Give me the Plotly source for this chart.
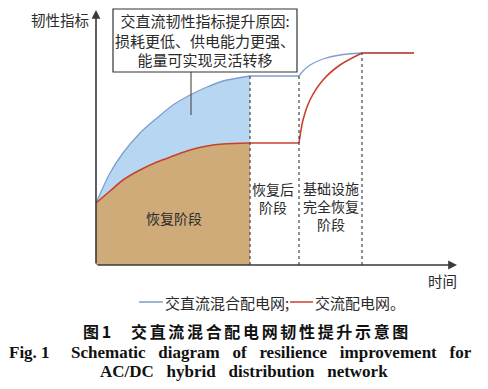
import numpy as np
import plotly.graph_objects as go

# ---------------- data ----------------
time = [0, 1.4, 2.7, 4.4, 6.1, 7.7, 9.4, 11.1, 12.7, 15.4,
        20.3, 20.7, 21.4, 22.7, 24.4, 26.6, 31.8]
hybrid = [6.2, 9.2, 11.2, 13.2, 14.7, 16.0, 17.0, 17.8, 18.4, 18.9,
          18.9, 19.4, 20.0, 20.6, 21.0, 21.2, 21.2]
ac_only = [6.2, 7.4, 8.5, 9.5, 10.3, 10.9, 11.5, 11.9, 12.1, 12.2,
           12.2, 14.5, 16.5, 18.5, 20.0, 21.2, 21.2]
stage_bounds = [15.4, 20.3, 26.6]
stage_labels = ["恢复阶段", "恢复后<br>阶段", "基础设施<br>完全恢复<br>阶段"]
series_names = ["交直流混合配电网;", "交流配电网。"]
y_title = "韧性指标"
x_title = "时间"
box_text = "交直流韧性指标提升原因:<br>损耗更低、供电能力更强、<br>能量可实现灵活转移"
caption_cn_num = "图1"
caption_cn = "交直流混合配电网韧性提升示意图"
caption_en_num = "Fig. 1"
caption_en_1 = "Schematic diagram of resilience improvement for"
caption_en_2 = "AC/DC hybrid distribution network"

# ---------------- styling ----------------
W, H = 488, 389
ML, MR, MT, MB = 96, 31, 5, 124
XMAX, YMAX = 36.1, 26.0
BLUE = "#7f9ed0"
BLUE_FILL = "#b6d6f2"
RED = "#c8412b"
TAN = "#cfab7a"
AX = "#3a3a3a"
TXT = "#2a2a2a"
CJK = "Noto Sans CJK SC"
SERIF = "Liberation Serif"


def px(x):
    return (x - ML) / (W - ML - MR)


def py(y):
    return (H - MB - y) / (H - MB - MT)


def label(x, y, text, size, family=CJK, color=TXT, xanchor="center"):
    fig.add_annotation(x=px(x), y=py(y), xref="paper", yref="paper", text=text, showarrow=False,
                       xanchor=xanchor, yanchor="middle", align="center", borderpad=0,
                       font=dict(family=family, size=size, color=color))


def wide(s):
    return s.replace(" ", "&nbsp;&nbsp; ")


def spaced(s):
    return "\u2006".join(s)


fig = go.Figure()

i_rec = slice(0, 10)      # recovery stage points
i_flat1 = slice(9, 11)    # post-recovery plateau
i_inf = slice(10, 16)     # infrastructure recovery
i_flat2 = slice(15, 17)   # final plateau

# fills in recovery stage
fig.add_trace(go.Scatter(x=time[i_rec], y=ac_only[i_rec], mode="lines",
                         line=dict(width=0, shape="spline", smoothing=0.8),
                         fill="tozeroy", fillcolor=TAN, hoverinfo="skip", showlegend=False))
fig.add_trace(go.Scatter(x=time[i_rec], y=hybrid[i_rec], mode="lines",
                         line=dict(width=0, shape="spline", smoothing=0.8),
                         fill="tonexty", fillcolor=BLUE_FILL, hoverinfo="skip", showlegend=False))

# lines
for vals, col, w in [(hybrid, BLUE, 1.3), (ac_only, RED, 1.6)]:
    for sl, shape in [(i_rec, "spline"), (i_flat1, "linear"), (i_inf, "spline"), (i_flat2, "linear")]:
        fig.add_trace(go.Scatter(x=time[sl], y=vals[sl], mode="lines",
                                 line=dict(color=col, width=w, shape=shape, smoothing=0.8),
                                 hoverinfo="skip", showlegend=False))

# dotted stage boundaries
for b in stage_bounds:
    top = float(np.interp(b, time, hybrid))
    fig.add_shape(type="line", x0=b, x1=b, y0=0, y1=top, xref="x", yref="y",
                  line=dict(color="#444", width=1.2, dash="dot"), layer="above")

# axes arrows
fig.add_annotation(x=XMAX, y=0, ax=0, ay=0, xref="x", yref="y", axref="x", ayref="y",
                   text="", showarrow=True, arrowhead=2, arrowsize=1.1, arrowwidth=1.6, arrowcolor=AX)
fig.add_annotation(x=0, y=25.5, ax=0, ay=0, xref="x", yref="y", axref="x", ayref="y",
                   text="", showarrow=True, arrowhead=2, arrowsize=1.1, arrowwidth=1.6, arrowcolor=AX)

# explanation box with stem
fig.add_shape(type="line", x0=px(191), x1=px(191), y0=py(72), y1=py(115), xref="paper", yref="paper",
              line=dict(color="#555", width=1.2))
fig.add_shape(type="rect", x0=px(113), x1=px(297), y0=py(9), y1=py(72), xref="paper", yref="paper",
              line=dict(color="#333", width=1.2), fillcolor="white")
label(205, 40, box_text, 15)

# axis titles
label(90, 19, y_title, 14.5, xanchor="right")
label(442, 280, x_title, 14.5)

# stage labels
for lab, (cx, cy) in zip(stage_labels, [(174, 218), (273, 198), (331, 206)]):
    label(cx, cy, lab, 14)

# legend (drawn manually)
for (x0, x1, tx), col, name in zip([(139, 163, 164), (290, 313, 314)], [BLUE, RED], series_names):
    fig.add_shape(type="line", x0=px(x0), x1=px(x1), y0=py(302), y1=py(302), xref="paper", yref="paper",
                  line=dict(color=col, width=1.5))
    label(tx, 302, name, 15, xanchor="left")

# captions
label(82, 331, "<b>" + spaced(caption_cn_num) + "</b>", 16, color="#111", xanchor="left")
label(130, 331, "<b>" + spaced(caption_cn) + "</b>", 16, color="#111", xanchor="left")
label(8, 352.5, "<b>" + caption_en_num + "</b>", 17, family=SERIF, color="#111", xanchor="left")
label(70, 352.5, "<b>" + wide(caption_en_1) + "</b>", 17, family=SERIF, color="#111", xanchor="left")
label(244, 371.5, "<b>" + wide(caption_en_2) + "</b>", 17, family=SERIF, color="#111")

fig.update_layout(
    width=W, height=H,
    margin=dict(l=ML, r=MR, t=MT, b=MB),
    paper_bgcolor="white", plot_bgcolor="white",
    showlegend=False,
    xaxis=dict(range=[0, XMAX], visible=False, fixedrange=True),
    yaxis=dict(range=[0, YMAX], visible=False, fixedrange=True),
)

fig.write_html("out.html", config={"displayModeBar": False},
               post_script="document.body.style.margin='0';")
